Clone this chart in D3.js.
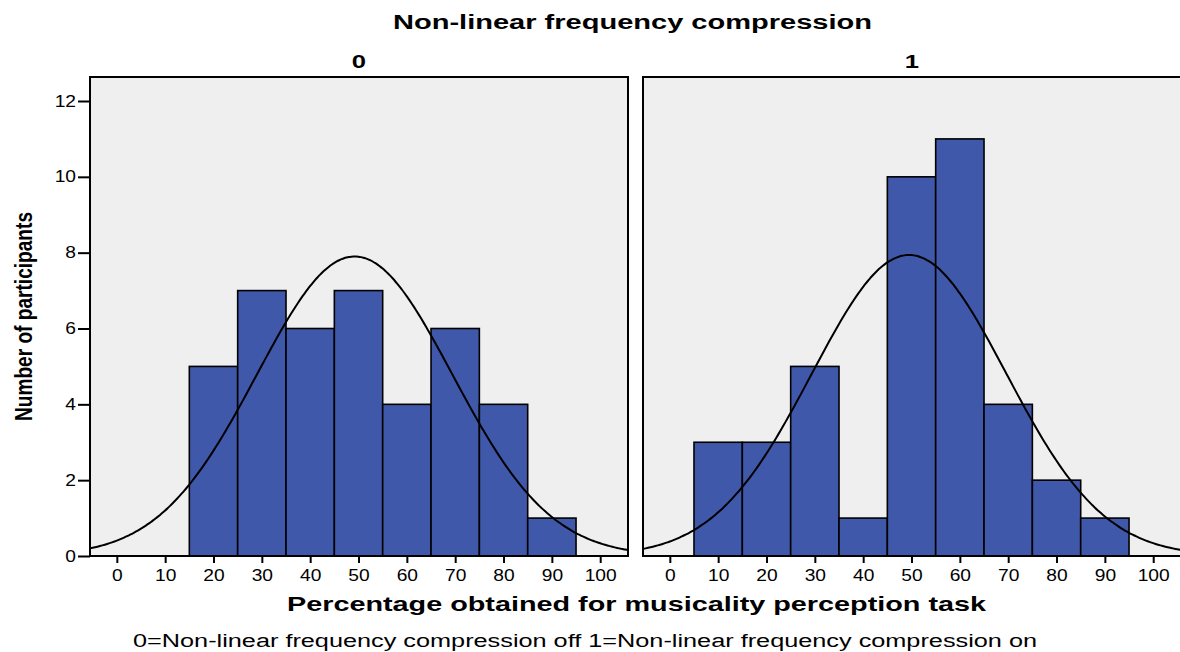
<!DOCTYPE html>
<html>
<head>
<meta charset="utf-8">
<script src="https://cdn.jsdelivr.net/npm/d3@7"></script>
<style>
  body { margin: 0; background: #fff; }
  text { font-family: "Liberation Sans", Arial, sans-serif; fill: #000; }
</style>
</head>
<body>
<div id="chart"></div>
<script>
// Histogram bins (lower edge) and counts per panel
const binStarts = [5, 15, 25, 35, 45, 55, 65, 75, 85];
const countsOff = [0, 5, 7, 6, 7, 4, 6, 4, 1];
const countsOn = [3, 3, 5, 1, 10, 11, 4, 2, 1];
const panelLabels = ['0', '1'];
// Normal curve parameters (mean, sd, n)
const normalMean = [49.2, 49.5];
const normalSd = [20.2, 20.1];
const normalN = [40, 40];
const xTicks = [0, 10, 20, 30, 40, 50, 60, 70, 80, 90, 100];
const yTicks = [0, 2, 4, 6, 8, 10, 12];

const config = {
  width: 1180, height: 652,
  panelTop: 77, panelBottom: 556,
  panelLefts: [90, 643], panelWidth: 538,
  binWidth: 10,
  tickStretch: 1.2
};

const svg = d3.select('#chart').append('svg')
  .attr('width', config.width)
  .attr('height', config.height);

const yScale = d3.scaleLinear()
  .domain([0, 12])
  .range([config.panelBottom, 101]);

const allCounts = [countsOff, countsOn];

panelLabels.forEach((label, i) => {
  const left = config.panelLefts[i];
  const xScale = d3.scaleLinear()
    .domain([-5.55, 105.75])
    .range([left, left + config.panelWidth]);

  const g = svg.append('g');

  // background
  g.append('rect')
    .attr('x', left)
    .attr('y', config.panelTop)
    .attr('width', config.panelWidth)
    .attr('height', config.panelBottom - config.panelTop)
    .attr('fill', '#efefef');

  const clipId = 'clip' + i;
  svg.append('clipPath').attr('id', clipId)
    .append('rect')
    .attr('x', left)
    .attr('y', config.panelTop)
    .attr('width', config.panelWidth)
    .attr('height', config.panelBottom - config.panelTop);

  // bars
  const bins = binStarts.map((b, j) => ({x0: b, x1: b + config.binWidth, n: allCounts[i][j]}))
    .filter(d => d.n > 0);
  g.selectAll('.bar')
    .data(bins)
    .join('rect')
    .attr('class', 'bar')
    .attr('x', d => xScale(d.x0))
    .attr('y', d => yScale(d.n))
    .attr('width', d => xScale(d.x1) - xScale(d.x0))
    .attr('height', d => yScale(0) - yScale(d.n))
    .attr('fill', '#3f58a9')
    .attr('stroke', '#000')
    .attr('stroke-width', 1.6);

  // normal curve
  const mu = normalMean[i], sd = normalSd[i], n = normalN[i];
  const curveX = d3.range(-6, 107, 0.5);
  const line = d3.line()
    .x(d => xScale(d))
    .y(d => yScale(n * config.binWidth / (sd * Math.sqrt(2 * Math.PI)) * Math.exp(-0.5 * ((d - mu) / sd) ** 2)))
    .curve(d3.curveBasis);
  g.append('path')
    .datum(curveX)
    .attr('clip-path', `url(#${clipId})`)
    .attr('fill', 'none')
    .attr('stroke', '#000')
    .attr('stroke-width', 2)
    .attr('d', line);

  // border
  g.append('rect')
    .attr('x', left)
    .attr('y', config.panelTop)
    .attr('width', config.panelWidth)
    .attr('height', config.panelBottom - config.panelTop)
    .attr('fill', 'none')
    .attr('stroke', '#000')
    .attr('stroke-width', 2);

  // x axis
  const xAxis = d3.axisBottom(xScale)
    .tickValues(xTicks)
    .tickSize(7)
    .tickPadding(7)
    .tickSizeOuter(0);
  const xAxisG = g.append('g')
    .attr('transform', `translate(0,${config.panelBottom})`)
    .call(xAxis);
  xAxisG.select('.domain').remove();
  xAxisG.selectAll('line').attr('stroke', '#000').attr('stroke-width', 2);
  xAxisG.selectAll('text')
    .attr('font-size', 16)
    .attr('font-family', '"Liberation Sans", Arial, sans-serif')
    .attr('fill', '#000')
    .attr('transform', `scale(${config.tickStretch},1)`);

  // panel label
  svg.append('text')
    .attr('transform', `translate(${left + config.panelWidth / 2},68) scale(1.35,1)`)
    .attr('text-anchor', 'middle')
    .attr('font-size', 19)
    .attr('font-weight', 'bold')
    .text(label);
});

// y axis on the left panel only
const yAxis = d3.axisLeft(yScale)
  .tickValues(yTicks)
  .tickSize(12)
  .tickPadding(3)
  .tickSizeOuter(0);
const yAxisG = svg.append('g')
  .attr('transform', `translate(${config.panelLefts[0]},0)`)
  .call(yAxis);
yAxisG.select('.domain').remove();
yAxisG.selectAll('line').attr('stroke', '#000').attr('stroke-width', 2);
yAxisG.selectAll('text')
  .attr('font-size', 16)
  .attr('font-family', '"Liberation Sans", Arial, sans-serif')
  .attr('fill', '#000')
  .attr('x', -14 / config.tickStretch)
  .attr('transform', `scale(${config.tickStretch},1)`);

// titles
svg.append('text')
  .attr('x', 393)
  .attr('y', 29)
  .attr('font-size', 20)
  .attr('font-weight', 'bold')
  .attr('textLength', 479)
  .attr('lengthAdjust', 'spacingAndGlyphs')
  .text('Non-linear frequency compression');

svg.append('text')
  .attr('x', 287)
  .attr('y', 611)
  .attr('font-size', 21)
  .attr('font-weight', 'bold')
  .attr('textLength', 699)
  .attr('lengthAdjust', 'spacingAndGlyphs')
  .text('Percentage obtained for musicality perception task');

svg.append('text')
  .attr('x', 133)
  .attr('y', 647)
  .attr('font-size', 18)
  .attr('textLength', 904)
  .attr('lengthAdjust', 'spacingAndGlyphs')
  .text('0=Non-linear frequency compression off  1=Non-linear frequency compression on');

svg.append('text')
  .attr('transform', 'translate(32,421) rotate(-90)')
  .attr('font-size', 24)
  .attr('font-weight', 'bold')
  .attr('textLength', 209)
  .attr('lengthAdjust', 'spacingAndGlyphs')
  .text('Number of participants');
</script>
</body>
</html>
